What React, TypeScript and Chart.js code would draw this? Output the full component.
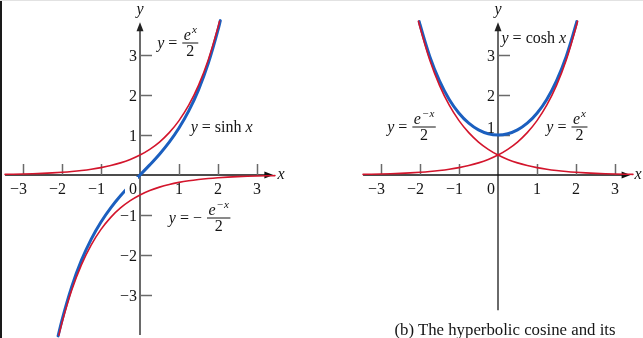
import { useEffect, useRef } from "react";
import { Chart, registerables } from "chart.js";

Chart.register(...registerables);

const SERIF = '"Liberation Serif", "Times New Roman", serif';
const FS = 16;
const SUP_FS = 11;
const INK = "#151515";
const RED = "#d3152c";
const BLUE = "#1b5fbf";
const AXIS_GRAY = "#6a6a6a";

// y = e^x / 2
const expX = [-3.46, -3.25, -3, -2.75, -2.5, -2.25, -2, -1.75, -1.5, -1.25, -1, -0.75, -0.5, -0.25, 0, 0.25, 0.5, 0.75, 1, 1.25, 1.5, 1.75, 2, 2.04];
const expY = [0.0157, 0.0194, 0.0249, 0.032, 0.041, 0.0527, 0.0677, 0.0869, 0.1116, 0.1433, 0.1839, 0.2362, 0.3033, 0.3894, 0.5, 0.642, 0.8244, 1.0585, 1.3591, 1.7452, 2.2408, 2.8773, 3.6945, 3.8453];

// y = e^(-x) / 2
const negExpX = [-2.04, -2, -1.75, -1.5, -1.25, -1, -0.75, -0.5, -0.25, 0, 0.25, 0.5, 0.75, 1, 1.25, 1.5, 1.75, 2, 2.25, 2.5, 2.75, 3, 3.25, 3.46];
const negExpY = [3.8453, 3.6945, 2.8773, 2.2408, 1.7452, 1.3591, 1.0585, 0.8244, 0.642, 0.5, 0.3894, 0.3033, 0.2362, 0.1839, 0.1433, 0.1116, 0.0869, 0.0677, 0.0527, 0.041, 0.032, 0.0249, 0.0194, 0.0157];

// y = -e^(-x) / 2
const lowerX = [-2.08, -2, -1.75, -1.5, -1.25, -1, -0.75, -0.5, -0.25, 0, 0.25, 0.5, 0.75, 1, 1.25, 1.5, 1.75, 2, 2.25, 2.5, 2.75, 3, 3.25, 3.46];
const lowerY = [-4.0022, -3.6945, -2.8773, -2.2408, -1.7452, -1.3591, -1.0585, -0.8244, -0.642, -0.5, -0.3894, -0.3033, -0.2362, -0.1839, -0.1433, -0.1116, -0.0869, -0.0677, -0.0527, -0.041, -0.032, -0.0249, -0.0194, -0.0157];

// y = sinh x
const sinhX = [-2.1, -2, -1.75, -1.5, -1.25, -1, -0.75, -0.5, -0.25, 0, 0.25, 0.5, 0.75, 1, 1.25, 1.5, 1.75, 2, 2.06];
const sinhY = [-4.0219, -3.6269, -2.7904, -2.1293, -1.6019, -1.1752, -0.8223, -0.5211, -0.2526, 0, 0.2526, 0.5211, 0.8223, 1.1752, 1.6019, 2.1293, 2.7904, 3.6269, 3.8593];

// y = cosh x
const coshX = [-2.02, -2, -1.75, -1.5, -1.25, -1, -0.75, -0.5, -0.25, 0, 0.25, 0.5, 0.75, 1, 1.25, 1.5, 1.75, 2, 2.02];
const coshY = [3.8355, 3.7622, 2.9642, 2.3524, 1.8884, 1.5431, 1.2947, 1.1276, 1.0314, 1, 1.0314, 1.1276, 1.2947, 1.5431, 1.8884, 2.3524, 2.9642, 3.7622, 3.8355];

// Tick values and their labels
const xTicks = [-3, -2, -1, 1, 2, 3];
const xTickLabels = ["−3", "−2", "−1", "1", "2", "3"];
const yTicksLeft = [-3, -2, -1, 1, 2, 3];
const yTickLabelsLeft = ["−3", "−2", "−1", "1", "2", "3"];
const yTicksRight = [1, 2, 3];
const yTickLabelsRight = ["1", "2", "3"];

type Tok = { t: string; it?: boolean };
type EqLabel = { x: number; y: number; lead: Tok[]; sup?: string };
type Curve = { xs: number[]; ys: number[]; color: string; width: number };
type Panel = {
  left: number;
  width: number;
  xMin: number;
  xMax: number;
  yMin: number;
  yMax: number;
  xAxisFrom: number;
  xAxisTo: number;
  yAxisFrom: number;
  yAxisTo: number;
  yTicks: number[];
  yTickLabels: string[];
  liftOne: number;
  zeroKnockout: boolean;
  curves: Curve[];
  labels: EqLabel[];
};

const Y = { t: "y", it: true };

const leftPanel: Panel = {
  left: 0,
  width: 320,
  xMin: -140 / 39,
  xMax: 180 / 39,
  yMin: -163 / 40,
  yMax: 175 / 40,
  xAxisFrom: -3.46,
  xAxisTo: 3.42,
  yAxisFrom: -4.0,
  yAxisTo: 3.82,
  yTicks: yTicksLeft,
  yTickLabels: yTickLabelsLeft,
  liftOne: 0,
  zeroKnockout: true,
  curves: [
    { xs: expX, ys: expY, color: RED, width: 1.6 },
    { xs: lowerX, ys: lowerY, color: RED, width: 1.6 },
    { xs: sinhX, ys: sinhY, color: BLUE, width: 3 },
  ],
  labels: [
    { x: 0.44, y: 3.3, lead: [Y, { t: " = " }], sup: "x" },
    { x: 1.3, y: 1.2, lead: [Y, { t: " = sinh " }, { t: "x", it: true }] },
    { x: 0.74, y: -1.075, lead: [Y, { t: " = − " }], sup: "−x" },
  ],
};

const rightPanel: Panel = {
  left: 320,
  width: 323,
  xMin: -178 / 39,
  xMax: 145 / 39,
  yMin: -163 / 40,
  yMax: 175 / 40,
  xAxisFrom: -3.46,
  xAxisTo: 3.4,
  yAxisFrom: -3.38,
  yAxisTo: 3.82,
  yTicks: yTicksRight,
  yTickLabels: yTickLabelsRight,
  liftOne: 8,
  zeroKnockout: false,
  curves: [
    { xs: expX, ys: expY, color: RED, width: 1.6 },
    { xs: negExpX, ys: negExpY, color: RED, width: 1.6 },
    { xs: coshX, ys: coshY, color: BLUE, width: 3 },
  ],
  labels: [
    { x: 0.09, y: 3.425, lead: [Y, { t: " = cosh " }, { t: "x", it: true }] },
    { x: -2.84, y: 1.2, lead: [Y, { t: " = " }], sup: "−x" },
    { x: 1.24, y: 1.2, lead: [Y, { t: " = " }], sup: "x" },
  ],
};

function font(ctx: CanvasRenderingContext2D, size: number, italic?: boolean) {
  ctx.font = `${italic ? "italic " : ""}${size}px ${SERIF}`;
}

function drawToks(ctx: CanvasRenderingContext2D, toks: Tok[], x: number, base: number) {
  let cx = x;
  ctx.textAlign = "left";
  ctx.textBaseline = "alphabetic";
  for (const tk of toks) {
    font(ctx, FS, tk.it);
    ctx.fillText(tk.t, cx, base);
    cx += ctx.measureText(tk.t).width;
  }
  return cx;
}

function drawLabel(ctx: CanvasRenderingContext2D, lb: EqLabel, px: number, py: number) {
  ctx.fillStyle = INK;
  const end = drawToks(ctx, lb.lead, px, py + 5);
  if (lb.sup === undefined) return;
  font(ctx, FS, true);
  const eW = ctx.measureText("e").width;
  font(ctx, SUP_FS, true);
  const sW = ctx.measureText(lb.sup).width;
  font(ctx, FS);
  const dW = ctx.measureText("2").width;
  const numW = eW + sW + 1;
  const w = Math.max(numW, dW) + 3;
  const fx = end + 1;
  const nx = fx + (w - numW) / 2;
  font(ctx, FS, true);
  ctx.textAlign = "left";
  ctx.fillText("e", nx, py - 3);
  font(ctx, SUP_FS, true);
  ctx.fillText(lb.sup, nx + eW + 1, py - 10);
  font(ctx, FS);
  ctx.textAlign = "center";
  ctx.fillText("2", fx + w / 2, py + 13);
  ctx.strokeStyle = INK;
  ctx.lineWidth = 1;
  ctx.beginPath();
  ctx.moveTo(fx, py);
  ctx.lineTo(fx + w, py);
  ctx.stroke();
}

function makeOverlay(cfg: Panel) {
  return {
    id: "mathAxes",
    beforeDatasetsDraw(chart: any) {
      const ctx: CanvasRenderingContext2D = chart.ctx;
      const sx = chart.scales.x;
      const sy = chart.scales.y;
      const ox = sx.getPixelForValue(0);
      const oy = sy.getPixelForValue(0);
      ctx.save();

      // vertical axis with arrow
      const yTop = sy.getPixelForValue(cfg.yAxisTo);
      ctx.strokeStyle = AXIS_GRAY;
      ctx.lineWidth = 2;
      ctx.beginPath();
      ctx.moveTo(ox, sy.getPixelForValue(cfg.yAxisFrom));
      ctx.lineTo(ox, yTop + 6);
      ctx.stroke();
      ctx.fillStyle = "#222";
      ctx.beginPath();
      ctx.moveTo(ox, yTop);
      ctx.lineTo(ox - 3.5, yTop + 9);
      ctx.lineTo(ox + 3.5, yTop + 9);
      ctx.closePath();
      ctx.fill();

      // y ticks
      ctx.strokeStyle = AXIS_GRAY;
      ctx.lineWidth = 1.5;
      for (const v of cfg.yTicks) {
        const py = Math.round(sy.getPixelForValue(v)) + 0.5;
        ctx.beginPath();
        ctx.moveTo(ox, py);
        ctx.lineTo(ox + 12, py);
        ctx.stroke();
      }

      // horizontal axis with arrow
      const xEnd = sx.getPixelForValue(cfg.xAxisTo);
      ctx.strokeStyle = "#111";
      ctx.lineWidth = 1.5;
      ctx.beginPath();
      ctx.moveTo(sx.getPixelForValue(cfg.xAxisFrom), oy);
      ctx.lineTo(xEnd - 6, oy);
      ctx.stroke();
      ctx.fillStyle = "#111";
      ctx.beginPath();
      ctx.moveTo(xEnd, oy);
      ctx.lineTo(xEnd - 9, oy - 3.5);
      ctx.lineTo(xEnd - 9, oy + 3.5);
      ctx.closePath();
      ctx.fill();

      // x ticks
      ctx.strokeStyle = AXIS_GRAY;
      ctx.lineWidth = 1.5;
      for (const v of xTicks) {
        const px = Math.round(sx.getPixelForValue(v)) + 0.5;
        ctx.beginPath();
        ctx.moveTo(px, oy);
        ctx.lineTo(px, oy - 11);
        ctx.stroke();
      }
      ctx.restore();
    },
    afterDatasetsDraw(chart: any) {
      const ctx: CanvasRenderingContext2D = chart.ctx;
      const sx = chart.scales.x;
      const sy = chart.scales.y;
      const ox = sx.getPixelForValue(0);
      const oy = sy.getPixelForValue(0);
      ctx.save();
      ctx.fillStyle = INK;
      ctx.textBaseline = "alphabetic";

      // x tick labels: digit centred under the tick, minus sign hanging left
      for (let i = 0; i < xTicks.length; i++) {
        const px = sx.getPixelForValue(xTicks[i]);
        const lab = xTickLabels[i];
        const digit = lab.replace("−", "");
        font(ctx, FS);
        const dW = ctx.measureText(digit).width;
        ctx.textAlign = "center";
        ctx.fillText(digit, px, oy + 19);
        if (lab.startsWith("−")) {
          ctx.textAlign = "right";
          ctx.fillText("−", px - dW / 2, oy + 19);
        }
      }

      // origin label
      if (cfg.zeroKnockout) {
        ctx.fillStyle = "#fff";
        ctx.fillRect(ox - 15, oy + 2, 13, 17);
        ctx.fillStyle = INK;
      }
      font(ctx, FS);
      ctx.textAlign = "right";
      ctx.fillText("0", ox - 3, oy + 19);

      // y tick labels
      for (let i = 0; i < cfg.yTicks.length; i++) {
        const v = cfg.yTicks[i];
        const py = sy.getPixelForValue(v) - (v === 1 ? cfg.liftOne : 0);
        ctx.textAlign = "right";
        ctx.fillText(cfg.yTickLabels[i], ox - 3, py + 5.5);
      }

      // axis names
      font(ctx, FS, true);
      ctx.textAlign = "left";
      ctx.fillText("x", sx.getPixelForValue(cfg.xAxisTo) + 4, oy + 4);
      ctx.textAlign = "center";
      ctx.fillText("y", ox, sy.getPixelForValue(cfg.yAxisTo) - 8);

      // curve equations
      for (const lb of cfg.labels) {
        drawLabel(ctx, lb, sx.getPixelForValue(lb.x), sy.getPixelForValue(lb.y));
      }
      ctx.restore();
    },
  };
}

function PanelChart({ cfg }: { cfg: Panel }) {
  const ref = useRef<HTMLCanvasElement | null>(null);
  useEffect(() => {
    if (!ref.current) return;
    const chart = new Chart(ref.current, {
      type: "line",
      data: {
        datasets: cfg.curves.map((c) => ({
          data: c.xs.map((x, i) => ({ x, y: c.ys[i] })),
          borderColor: c.color,
          borderWidth: c.width,
          pointRadius: 0,
          fill: false,
          cubicInterpolationMode: "monotone" as const,
          borderCapStyle: "round" as const,
        })),
      },
      options: {
        animation: false,
        responsive: false,
        maintainAspectRatio: false,
        devicePixelRatio: 1,
        layout: { padding: 0 },
        events: [],
        plugins: { legend: { display: false }, tooltip: { enabled: false }, title: { display: false } },
        scales: {
          x: { type: "linear", min: cfg.xMin, max: cfg.xMax, display: false },
          y: { type: "linear", min: cfg.yMin, max: cfg.yMax, display: false },
        },
      },
      plugins: [makeOverlay(cfg)],
    });
    return () => chart.destroy();
  }, [cfg]);
  return (
    <canvas
      ref={ref}
      width={cfg.width}
      height={338}
      style={{ position: "absolute", left: cfg.left, top: 0, width: cfg.width, height: 338 }}
    />
  );
}

export default function App() {
  return (
    <div
      style={{
        position: "fixed",
        left: 0,
        top: 0,
        width: 643,
        height: 338,
        background: "#fff",
        overflow: "hidden",
      }}
    >
      <PanelChart cfg={leftPanel} />
      <PanelChart cfg={rightPanel} />
      <div style={{ position: "absolute", left: 0, top: 0, width: 2, height: 338, background: "#1a1a1a" }} />
      <div style={{ position: "absolute", left: 0, top: 0, width: 643, height: 1, background: "#e2e2e2" }} />
      <div
        style={{
          position: "absolute",
          left: 370,
          width: 270,
          top: 319,
          textAlign: "center",
          fontFamily: SERIF,
          fontSize: 16.8,
          lineHeight: "22px",
          color: INK,
          whiteSpace: "nowrap",
        }}
      >
        (b) The hyperbolic cosine and its
      </div>
    </div>
  );
}
